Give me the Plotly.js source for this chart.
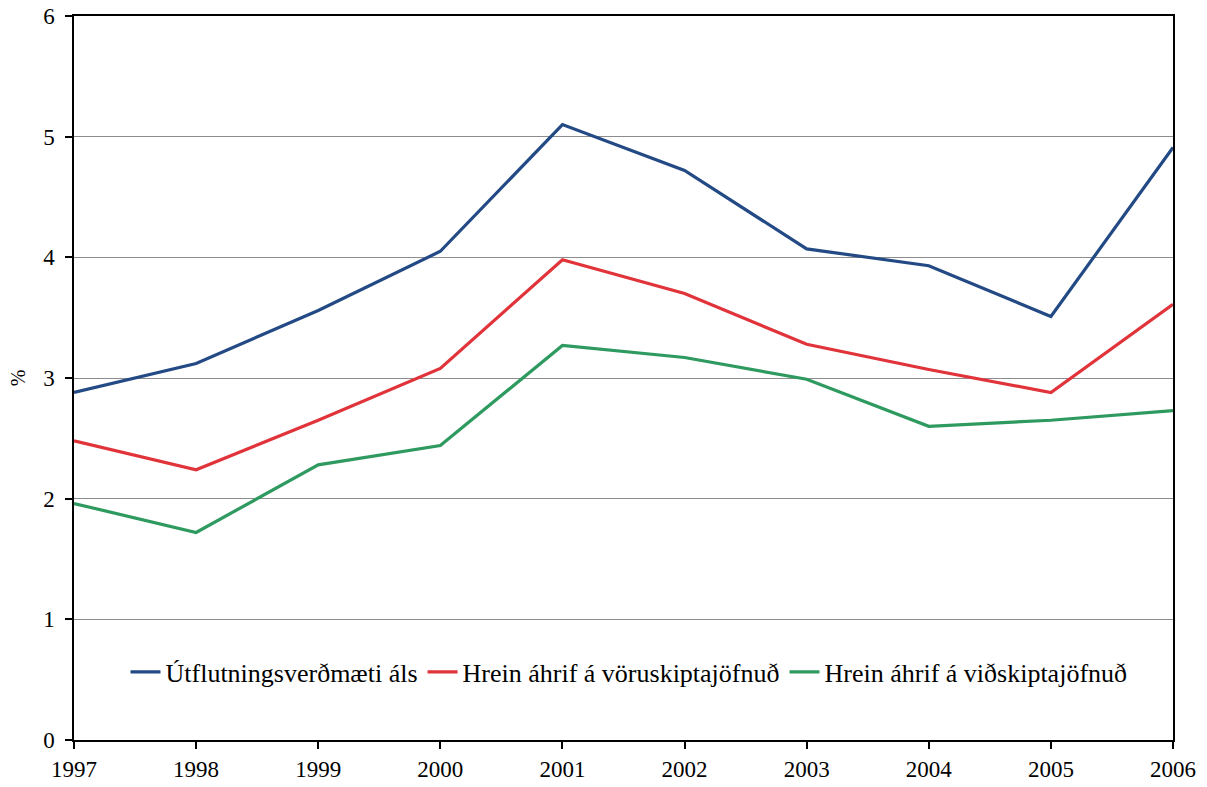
<!DOCTYPE html>
<html><head><meta charset="utf-8">
<script src="https://cdn.plot.ly/plotly-3.0.1.min.js"></script>
<style>body{margin:0;background:#fff}#c{width:1207px;height:787px}</style>
</head><body><div id="c"></div>
<script>
const years = [1997,1998,1999,2000,2001,2002,2003,2004,2005,2006];
const utflutningsverdmaeti = [2.88,3.12,3.56,4.05,5.10,4.72,4.07,3.93,3.51,4.91];
const voruskiptajofnudur = [2.48,2.24,2.65,3.08,3.98,3.70,3.28,3.07,2.88,3.61];
const vidskiptajofnudur = [1.96,1.72,2.28,2.44,3.27,3.17,2.99,2.60,2.65,2.73];
const names = ['Útflutningsverðmæti áls','Hrein áhrif á vöruskiptajöfnuð','Hrein áhrif á viðskiptajöfnuð'];
const colors = ['#234a85','#e0333a','#2e9a5f'];
const series = [utflutningsverdmaeti, voruskiptajofnudur, vidskiptajofnudur];
const traces = series.map((s,i)=>({x:years,y:s,name:names[i],type:'scatter',mode:'lines',
  line:{color:colors[i],width:3.2}}));
const fam = 'Liberation Serif, Times New Roman, serif';
const font = {family:fam, size:23, color:'#000'};
const legfont = {family:fam, size:26, color:'#000'};
Plotly.newPlot('c', traces, {
  width:1207, height:787,
  margin:{l:74,r:34,t:16,b:47},
  paper_bgcolor:'#fff', plot_bgcolor:'#fff',
  font:font,
  showlegend:true,
  legend:{orientation:'h', x:0.505, xanchor:'center', y:0.094, yanchor:'middle',
    bgcolor:'rgba(0,0,0,0)', font:legfont, traceorder:'normal'},
  xaxis:{range:[1997,2006], tickmode:'array', tickvals:years, ticktext:years.map(String),
    ticks:'outside', ticklen:7, tickwidth:1.5, tickcolor:'#000', ticklabelstandoff:1,
    showline:true, linecolor:'#000', linewidth:1.5, mirror:true,
    showgrid:false, zeroline:false, tickfont:font},
  yaxis:{range:[0,6], dtick:1, ticks:'outside', ticklen:7, tickwidth:1.5, tickcolor:'#000', ticklabelstandoff:6,
    showline:true, linecolor:'#000', linewidth:1.5, mirror:true,
    showgrid:true, gridcolor:'#8c8c8c', gridwidth:1, zeroline:false, tickfont:font,
    title:{text:'%', font:{family:fam, size:20, color:'#000'}, standoff:12}}
}, {displayModeBar:false});
</script></body></html>
